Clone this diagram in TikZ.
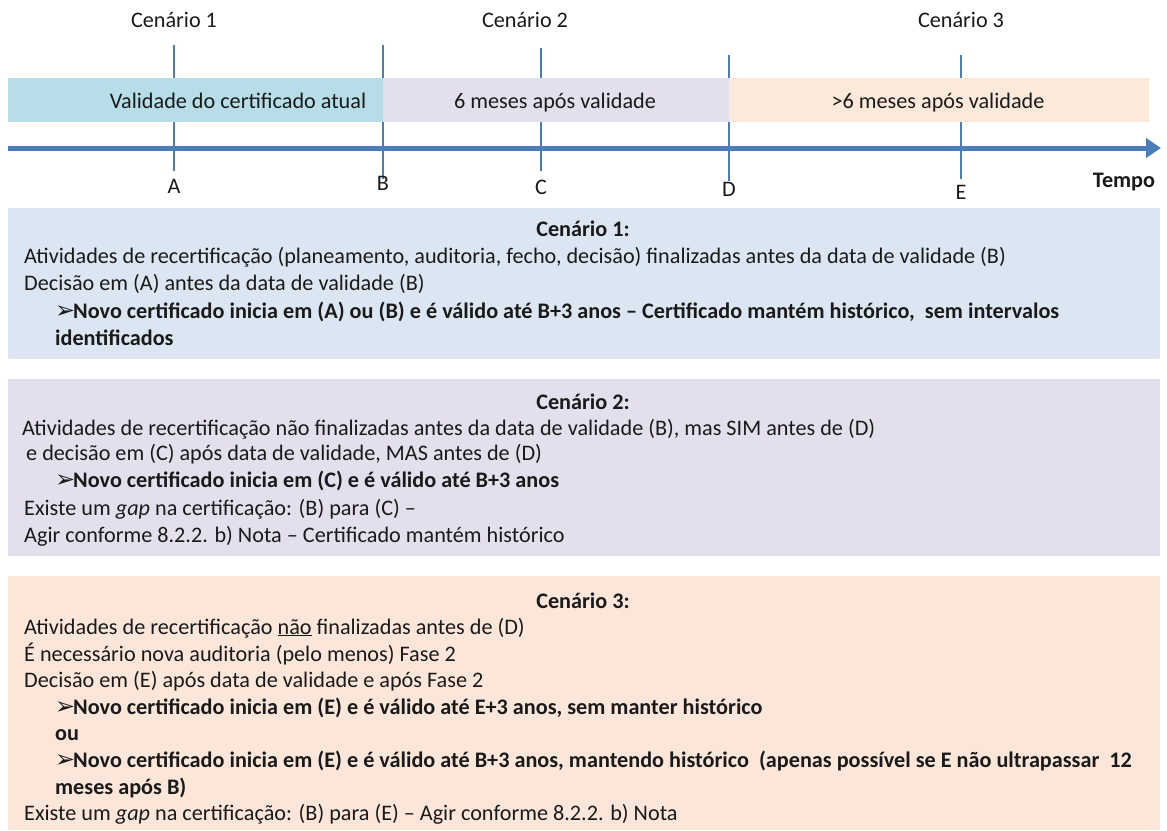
\documentclass[tikz,border=0pt]{standalone}
\usepackage{fontspec}
\setmainfont{Carlito}
\newfontfamily\symfont{DejaVu Sans}
\usetikzlibrary{arrows.meta}
\definecolor{axisblue}{HTML}{4A7EBB}
\definecolor{bandA}{HTML}{B7DEE8}
\definecolor{bandB}{HTML}{E4DFEC}
\definecolor{bandC}{HTML}{FDE9D9}
\definecolor{boxA}{HTML}{DCE6F2}
\definecolor{boxB}{HTML}{E4DFEC}
\definecolor{boxC}{HTML}{FCE6D9}
\definecolor{txt}{HTML}{1A1A1A}
\newcommand{\arw}{\makebox[18pt][l]{\symfont\fontsize{24}{24}\selectfont ➢}}
\newcommand{\fs}{\fontsize{22.2}{26}\selectfont}
\tikzset{
  txtline/.style={anchor=base west, inner sep=0pt, font=\fs, text=txt},
  boldline/.style={txtline, font=\fs\bfseries},
  ctrline/.style={anchor=base, inner sep=0pt, font=\fs, text=txt},
  ctrbold/.style={ctrline, font=\fs\bfseries},
  tickline/.style={draw=axisblue, line width=1.5pt},
}
\begin{document}
\begin{tikzpicture}[x=1pt,y=-1pt]
\useasboundingbox (0,0) rectangle (1167,830);
\fill[white] (0,0) rectangle (1167,830);
% tick coordinates
\coordinate (Atop) at (174,45); \coordinate (Abot) at (174,171);
\coordinate (Btop) at (383,45); \coordinate (Bbot) at (383,179);
\coordinate (Ctop) at (541,48); \coordinate (Cbot) at (541,171);
\coordinate (Dtop) at (729,55); \coordinate (Dbot) at (729,181);
\coordinate (Etop) at (961,55); \coordinate (Ebot) at (961,179);
\draw[tickline] (Atop) -- (Abot);
\draw[tickline] (Btop) -- (Bbot);
\draw[tickline] (Ctop) -- (Cbot);
\draw[tickline] (Dtop) -- (Dbot);
\draw[tickline] (Etop) -- (Ebot);
% bands
\fill[bandA] (8,78) rectangle (383,122);
\fill[bandB] (383,78) rectangle (729,122);
\fill[bandC] (729,78) rectangle (1149,122);
\node[ctrline] (bt1) at (238,108) {Validade do certificado atual};
\node[ctrline] (bt2) at (555,108) {6 meses após validade};
\node[ctrline] (bt3) at (938,108) {>6 meses após validade};
% axis
\coordinate (ax0) at (8,148);
\coordinate (ax1) at (1161,148);
\draw[axisblue, line width=5pt, -{Triangle[length=15pt,width=19pt]}] (ax0) -- (ax1);
% scenario labels
\node[ctrline] (s1) at (174,27) {Cenário 1};
\node[ctrline] (s2) at (525,27) {Cenário 2};
\node[ctrline] (s3) at (961,27) {Cenário 3};
% point labels
\node[ctrline] (la) at (174,193) {A};
\node[ctrline] (lb) at (383,190) {B};
\node[ctrline] (lc) at (541,194) {C};
\node[ctrline] (ld) at (729,196) {D};
\node[ctrline] (le) at (961,199) {E};
\node[ctrbold] (tempo) at (1124,187) {Tempo};
% boxes
\fill[boxA] (8,208) rectangle (1160,359);
\fill[boxB] (8,379) rectangle (1160,556);
\fill[boxC] (8,576) rectangle (1160,830);
% box 1
\node[ctrbold] (h1) at (583,236) {Cenário 1:};
\node[txtline] (a1) at (24,263) {Atividades de recertificação (planeamento, auditoria, fecho, decisão) finalizadas antes da data de validade (B)};
\node[txtline] (a2) at (24,290) {Decisão em (A) antes da data de validade (B)};
\node[boldline] (a3) at (55,318) {\arw Novo certificado inicia em (A) ou (B) e é válido até B+3 anos – Certificado mantém histórico,\ \ sem intervalos};
\node[boldline] (a4) at (55,345) {identificados};
% box 2
\node[ctrbold] (h2) at (583,409) {Cenário 2:};
\node[txtline] (b1) at (22,435) {Atividades de recertificação não finalizadas antes da data de validade (B), mas SIM antes de (D)};
\node[txtline] (b2) at (26,460) {e decisão em (C) após data de validade, MAS antes de (D)};
\node[boldline] (b3) at (55,487) {\arw Novo certificado inicia em (C) e é válido até B+3 anos};
\node[txtline] (b4) at (24,515) {Existe um \textit{gap} na certificação: (B) para (C) –};
\node[txtline] (b5) at (24,542) {Agir conforme 8.2.2. b) Nota – Certificado mantém histórico};
% box 3
\node[ctrbold] (h3) at (583,608) {Cenário 3:};
\node[txtline] (c1) at (24,634) {Atividades de recertificação \underline{não} finalizadas antes de (D)};
\node[txtline] (c2) at (24,661) {É necessário nova auditoria (pelo menos) Fase 2};
\node[txtline] (c3) at (24,687) {Decisão em (E) após data de validade e após Fase 2};
\node[boldline] (c4) at (55,714) {\arw Novo certificado inicia em (E) e é válido até E+3 anos, sem manter histórico};
\node[boldline] (c5) at (55,740) {ou};
\node[boldline] (c6) at (55,767) {\arw Novo certificado inicia em (E) e é válido até B+3 anos, mantendo histórico\ \ (apenas possível se E não ultrapassar\ \ 12};
\node[boldline] (c7) at (55,794) {meses após B)};
\node[txtline] (c8) at (24,820) {Existe um \textit{gap} na certificação: (B) para (E) – Agir conforme 8.2.2. b) Nota};
\end{tikzpicture}
\end{document}
